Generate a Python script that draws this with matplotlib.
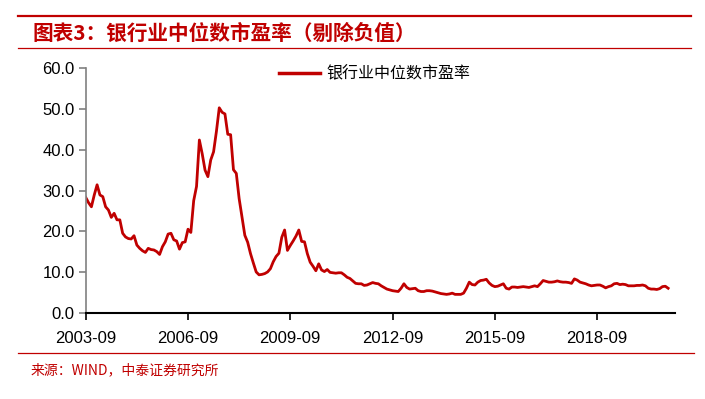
import numpy as np
import pandas as pd
import matplotlib
matplotlib.use("Agg")
from matplotlib import pyplot as plt
from matplotlib.lines import Line2D

# monthly median P/E of listed banks (negative values removed), from 2003-09
start_month = "2003-09"
pe_median = [
    28.3, 27.0, 26.0, 28.9, 31.4, 28.9, 28.5, 26.0, 25.2, 23.4,
    24.4, 22.8, 22.8, 19.5, 18.6, 18.2, 18.1, 18.9, 16.6, 15.8,
    15.2, 14.8, 15.8, 15.5, 15.4, 15.0, 14.3, 16.2, 17.4, 19.3,
    19.5, 17.9, 17.6, 15.6, 17.2, 17.4, 20.5, 19.7, 27.5, 31.0,
    42.4, 39.0, 35.0, 33.4, 37.5, 39.5, 44.5, 50.3, 49.2, 48.8,
    43.8, 43.7, 35.1, 34.2, 28.0, 23.5, 19.0, 17.3, 14.5, 12.2,
    10.0, 9.3, 9.4, 9.6, 10.0, 10.8, 12.5, 13.8, 14.6, 18.5,
    20.3, 15.3, 16.5, 17.6, 18.8, 20.3, 17.5, 17.4, 14.5, 12.4,
    11.4, 10.3, 12.0, 10.5, 10.1, 10.6, 9.9, 9.8, 9.7, 9.8,
    9.8, 9.3, 8.7, 8.4, 7.8, 7.2, 7.1, 7.1, 6.7, 6.8,
    7.1, 7.4, 7.2, 7.1, 6.6, 6.2, 5.8, 5.6, 5.4, 5.3,
    5.2, 6.0, 7.1, 6.2, 5.8, 5.9, 6.0, 5.4, 5.2, 5.2,
    5.4, 5.4, 5.3, 5.1, 4.9, 4.7, 4.6, 4.5, 4.6, 4.8,
    4.5, 4.5, 4.5, 4.8, 6.0, 7.5, 6.9, 6.8, 7.5, 7.9,
    8.0, 8.2, 7.3, 6.7, 6.4, 6.5, 6.8, 7.1, 6.0, 5.8,
    6.3, 6.3, 6.2, 6.3, 6.4, 6.3, 6.2, 6.4, 6.6, 6.4,
    7.1, 7.9, 7.7, 7.5, 7.5, 7.6, 7.8, 7.6, 7.5, 7.5,
    7.4, 7.2, 8.3, 8.0, 7.5, 7.3, 7.1, 6.8, 6.6, 6.7,
    6.8, 6.8, 6.5, 6.1, 6.4, 6.6, 7.1, 7.2, 6.9, 7.0,
    6.9, 6.6, 6.6, 6.6, 6.7, 6.7, 6.8, 6.6, 6.0, 5.8,
    5.8, 5.7, 5.9, 6.4, 6.5, 6.0,
]
y_ticks = [0, 10, 20, 30, 40, 50, 60]
tick_every = 36

title_text = "图表3：银行业中位数市盈率（剔除负值）"
legend_text = "银行业中位数市盈率"
source_text = "来源：WIND，中泰证券研究所"

RED = "#C00000"
CJK = ["Noto Sans CJK SC", "DejaVu Sans"]

if __name__ == "__main__":
    plt.rcParams['font.family'] = ["Liberation Sans", "Noto Sans CJK SC"]

    dates = pd.date_range(start=start_month, periods=len(pe_median), freq="MS")
    x = np.arange(len(pe_median))

    fig = plt.figure(figsize=(7.05, 3.99), dpi=100)
    ax = fig.add_axes([0.1216, 0.2163, 0.8358, 0.6125])

    ax.plot(x, pe_median, color=RED, lw=2.0, solid_joinstyle="round")

    ax.set_xlim(0, 207.4)
    ax.set_ylim(0, 60)
    ax.set_yticks(y_ticks)
    ax.set_yticklabels(["{:.1f}".format(v) for v in y_ticks])
    xt = x[::tick_every]
    ax.set_xticks(xt)
    ax.set_xticklabels([dates[i].strftime("%Y-%m") for i in xt])

    for side in ["top", "right"]:
        ax.spines[side].set_visible(False)
    ax.spines["left"].set_color("#808080")
    ax.spines["left"].set_linewidth(1.2)
    ax.spines["bottom"].set_color("black")
    ax.spines["bottom"].set_linewidth(1.5)
    ax.tick_params(axis="y", direction="out", length=5, width=1.2, color="#808080",
                   labelsize=12, pad=3)
    ax.tick_params(axis="x", direction="out", length=5, width=1.2, color="black",
                   labelsize=12, pad=8)

    handle = Line2D([], [], color=RED, lw=2.5)
    ax.legend([handle], [legend_text], loc="center", bbox_to_anchor=(0.49, 0.977),
              frameon=False, handlelength=2.6, handletextpad=0.35,
              prop={"family": CJK, "size": 11.5})

    # header / footer decoration
    fig.add_artist(Line2D([0.0255, 0.98], [1 - 16 / 399] * 2, color=RED, lw=1.6))
    fig.add_artist(Line2D([0.0255, 0.98], [1 - 48 / 399] * 2, color=RED, lw=0.9))
    fig.add_artist(Line2D([0.0255, 0.985], [1 - 353 / 399] * 2, color=RED, lw=0.9))
    fig.text(32 / 705, 1 - 33 / 399, title_text, color=RED, fontsize=14.9,
             fontweight="bold", style="italic", family=CJK, va="center", ha="left")
    fig.text(31 / 705, 1 - 370 / 399, source_text, color=RED, fontsize=10.0,
             family=CJK, va="center", ha="left")

    plt.savefig("out.png", dpi=100)
    plt.close()
